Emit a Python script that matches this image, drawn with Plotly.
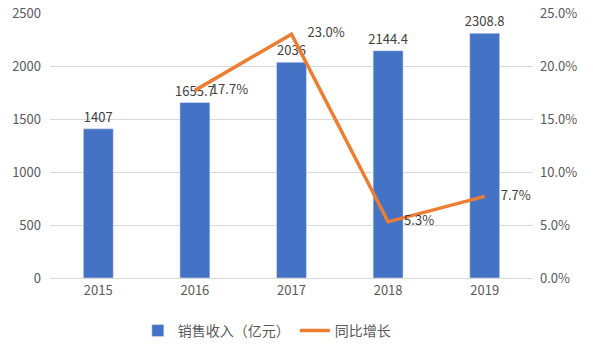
import plotly.graph_objects as go

years = ["2015", "2016", "2017", "2018", "2019"]
revenue = [1407, 1655.7, 2036, 2144.4, 2308.8]
growth_years = ["2016", "2017", "2018", "2019"]
growth = [17.7, 23.0, 5.3, 7.7]
growth_labels = ["17.7%", "23.0%", "5.3%", "7.7%"]
revenue_labels = ["1407", "1655.7", "2036", "2144.4", "2308.8"]

font_family = "Noto Sans CJK SC, Noto Sans, sans-serif"
tick_color = "#595959"

fig = go.Figure()
fig.add_trace(go.Bar(
    x=years, y=revenue, name="销售收入（亿元）",
    marker_color="#4472C4", width=0.31,
    text=revenue_labels, textposition="outside", constraintext="none",
    textfont=dict(size=13, color="#404040"),
    cliponaxis=False,
))
fig.add_trace(go.Scatter(
    x=growth_years, y=growth, name="同比增长", yaxis="y2",
    mode="lines", line=dict(color="#ED7D31", width=3.5),
    cliponaxis=False,
))
fig.add_trace(go.Scatter(
    x=growth_years, y=growth, yaxis="y2", showlegend=False, hoverinfo="skip",
    mode="markers+text",
    marker=dict(size=24, opacity=0, color="#ED7D31"),
    text=growth_labels, textposition="middle right",
    textfont=dict(size=13, color="#404040"),
    cliponaxis=False,
))

fig.update_layout(
    width=593, height=347,
    margin=dict(l=50, r=60, t=13, b=69, autoexpand=False),
    paper_bgcolor="white", plot_bgcolor="white",
    font=dict(family=font_family, size=13, color=tick_color),
    xaxis=dict(showgrid=False, showline=True, linecolor="#D9D9D9", ticks="",
               automargin=False, tickfont=dict(size=13, color=tick_color)),
    yaxis=dict(range=[0, 2500], dtick=500, showgrid=True, gridcolor="#D9D9D9",
               zeroline=False, automargin=False,
               tickfont=dict(size=13, color=tick_color), ticklabelstandoff=8),
    yaxis2=dict(range=[0, 25], dtick=5, overlaying="y", side="right",
                showgrid=False, zeroline=False, ticksuffix="%", tickformat=".1f",
                automargin=False,
                tickfont=dict(size=13, color=tick_color), ticklabelstandoff=6),
    legend=dict(orientation="h", x=0.45, xanchor="center", xref="container",
                y=0.0, yanchor="bottom", yref="container",
                font=dict(size=14, color=tick_color)),
    showlegend=True,
)

fig.write_html("out.html")
